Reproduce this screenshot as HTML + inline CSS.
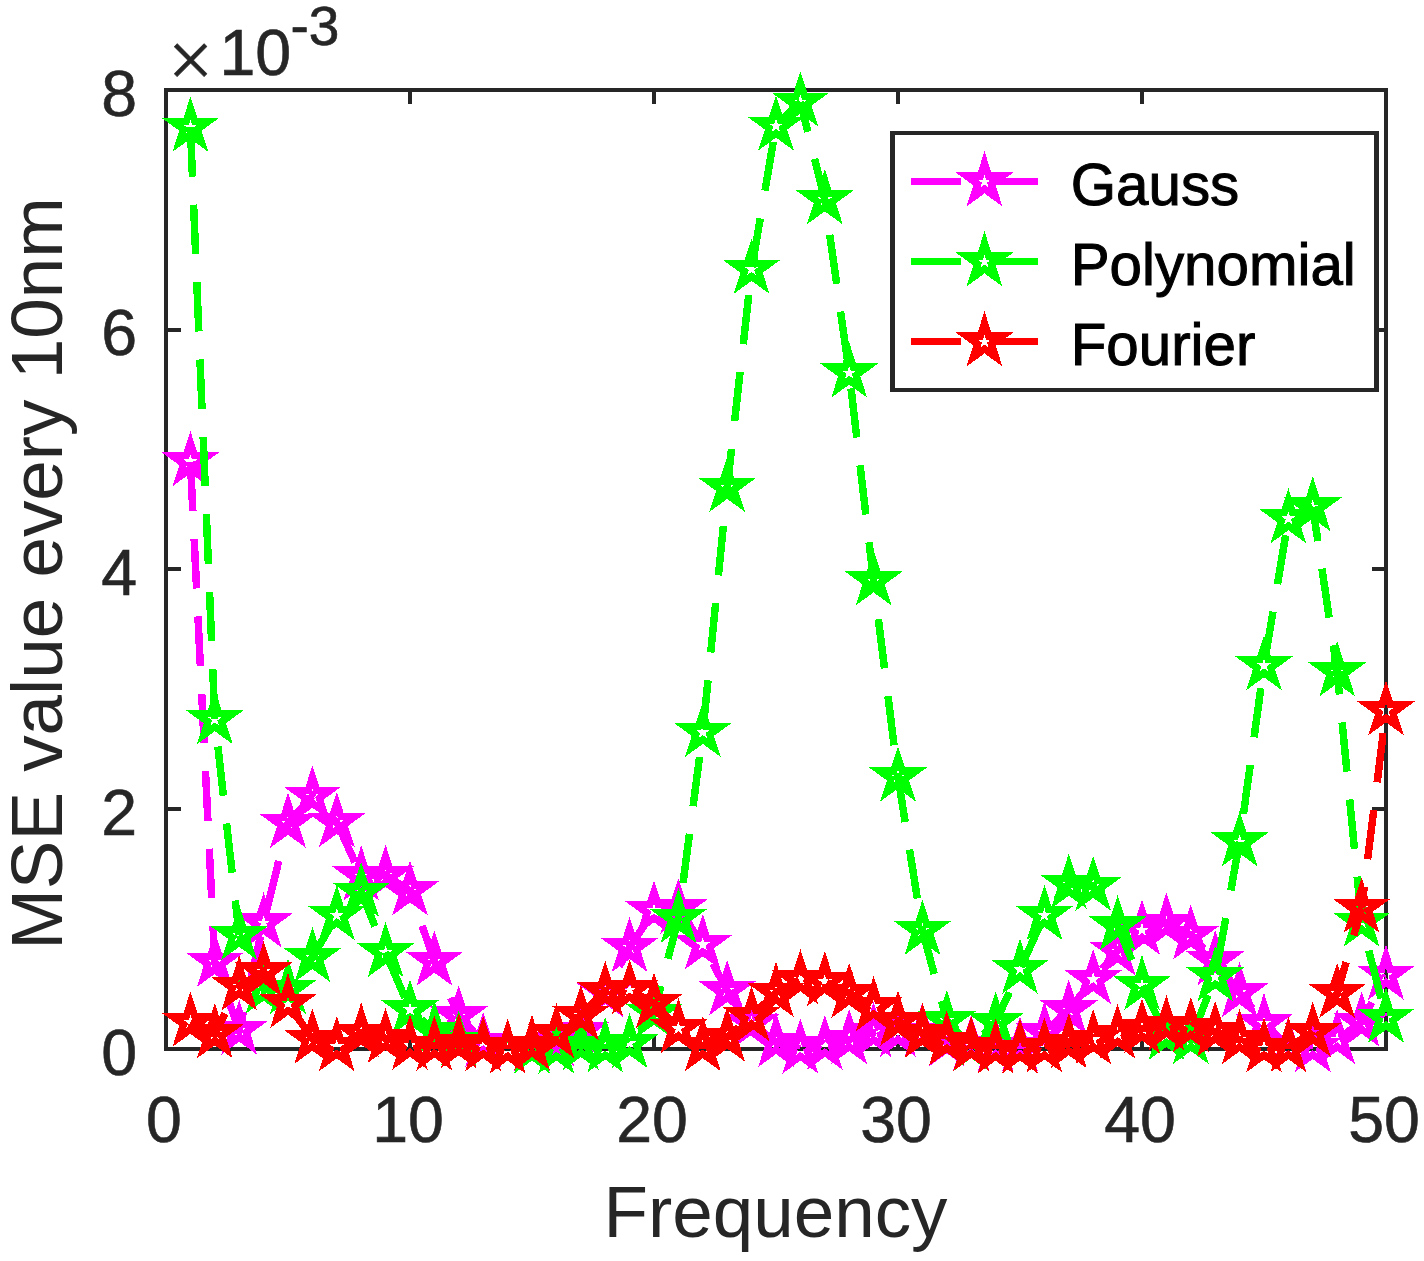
<!DOCTYPE html>
<html><head><meta charset="utf-8"><title>MSE value every 10nm vs Frequency</title>
<style>html,body{margin:0;padding:0;background:#fff}svg{display:block}.d{shape-rendering:crispEdges}text{font-family:"Liberation Sans",Arial,Helvetica,sans-serif;fill:#262626}</style></head><body>
<svg width="1424" height="1261" viewBox="0 0 1424 1261">
<rect width="1424" height="1261" fill="#fff"/>
<defs><clipPath id="ax"><rect x="166.0" y="90.0" width="1220.0" height="959.0"/></clipPath></defs>
<g stroke="#262626" stroke-width="4" fill="none" stroke-linecap="butt" shape-rendering="crispEdges">
<rect x="166.0" y="90.0" width="1220.0" height="959.0" stroke-linejoin="miter"/>
<path d="M410.00 1049.00V1035.00M410.00 90.00V104.00M654.00 1049.00V1035.00M654.00 90.00V104.00M898.00 1049.00V1035.00M898.00 90.00V104.00M1142.00 1049.00V1035.00M1142.00 90.00V104.00M166.00 809.00H181.00M1386.00 809.00H1372.00M166.00 569.00H181.00M1386.00 569.00H1372.00M166.00 330.00H181.00M1386.00 330.00H1372.00"/>
</g>
<g font-size="64.5" stroke="#262626" stroke-width="0.6">
<text x="164.0" y="1141.6" text-anchor="middle">0</text>
<text x="408.0" y="1141.6" text-anchor="middle">10</text>
<text x="652.0" y="1141.6" text-anchor="middle">20</text>
<text x="896.0" y="1141.6" text-anchor="middle">30</text>
<text x="1140.0" y="1141.6" text-anchor="middle">40</text>
<text x="1384.0" y="1141.6" text-anchor="middle">50</text>
<text x="137.2" y="1074.5" text-anchor="end">0</text>
<text x="137.2" y="834.8" text-anchor="end">2</text>
<text x="137.2" y="595.0" text-anchor="end">4</text>
<text x="137.2" y="355.2" text-anchor="end">6</text>
<text x="137.2" y="115.5" text-anchor="end">8</text>
<text x="168" y="87" font-family="Liberation Serif" font-size="80" style="font-family:'Liberation Serif',serif">×</text>
<text x="219.5" y="74.5">10</text>
<text x="290.5" y="45.4" font-size="55">-3</text>
</g>
<text x="775.5" y="1236.8" font-size="72.8" text-anchor="middle">Frequency</text>
<text transform="translate(62.2,573.5) rotate(-90)" font-size="72.8" text-anchor="middle">MSE value every 10nm</text>
<polyline class="d" clip-path="url(#ax)" points="190.40,461.61 214.80,962.21 239.20,1030.06 263.60,922.77 288.00,823.16 312.40,796.06 336.80,822.44 361.20,875.90 385.60,875.18 410.00,890.76 434.40,961.13 458.80,1015.91 483.20,1042.29 507.60,1049.00 532.00,1046.60 556.40,1041.81 580.80,1031.02 605.20,992.42 629.60,947.35 654.00,910.66 678.40,908.87 702.80,944.71 727.20,990.50 751.60,1022.99 776.00,1042.41 800.40,1049.00 824.80,1045.28 849.20,1039.53 873.60,1032.58 898.00,1032.22 922.40,1032.82 946.80,1041.81 971.20,1045.40 995.60,1046.60 1020.00,1046.60 1044.40,1032.22 1068.80,1009.92 1093.20,979.47 1117.60,950.94 1142.00,930.08 1166.40,923.13 1190.80,935.00 1215.20,960.89 1239.60,992.66 1264.00,1023.47 1288.40,1047.20 1312.80,1047.44 1337.20,1039.41 1361.60,1022.03 1386.00,975.16" fill="none" stroke="#ff00ff" stroke-width="7.5" stroke-dasharray="49.5 28" stroke-dashoffset="0.00" stroke-linejoin="miter"/>
<path class="d" d="M190.40 442.71L194.64 455.77L208.37 455.77L197.27 463.84L201.51 476.90L190.40 468.83L179.29 476.90L183.53 463.84L172.43 455.77L186.16 455.77ZM214.80 943.31L219.04 956.37L232.77 956.37L221.67 964.44L225.91 977.50L214.80 969.43L203.69 977.50L207.93 964.44L196.83 956.37L210.56 956.37ZM239.20 1011.16L243.44 1024.22L257.17 1024.22L246.07 1032.29L250.31 1045.35L239.20 1037.28L228.09 1045.35L232.33 1032.29L221.23 1024.22L234.96 1024.22ZM263.60 903.87L267.84 916.93L281.57 916.93L270.47 925.00L274.71 938.06L263.60 929.99L252.49 938.06L256.73 925.00L245.63 916.93L259.36 916.93ZM288.00 804.26L292.24 817.32L305.97 817.32L294.87 825.39L299.11 838.45L288.00 830.37L276.89 838.45L281.13 825.39L270.03 817.32L283.76 817.32ZM312.40 777.16L316.64 790.22L330.37 790.22L319.27 798.29L323.51 811.35L312.40 803.28L301.29 811.35L305.53 798.29L294.43 790.22L308.16 790.22ZM336.80 803.54L341.04 816.60L354.77 816.60L343.67 824.67L347.91 837.73L336.80 829.66L325.69 837.73L329.93 824.67L318.83 816.60L332.56 816.60ZM361.20 857.00L365.44 870.06L379.17 870.06L368.07 878.13L372.31 891.19L361.20 883.12L350.09 891.19L354.33 878.13L343.23 870.06L356.96 870.06ZM385.60 856.28L389.84 869.34L403.57 869.34L392.47 877.41L396.71 890.47L385.60 882.40L374.49 890.47L378.73 877.41L367.63 869.34L381.36 869.34ZM410.00 871.87L414.24 884.92L427.97 884.92L416.87 893.00L421.11 906.06L410.00 897.98L398.89 906.06L403.13 893.00L392.03 884.92L405.76 884.92ZM434.40 942.23L438.64 955.29L452.37 955.29L441.27 963.36L445.51 976.42L434.40 968.35L423.29 976.42L427.53 963.36L416.43 955.29L430.16 955.29ZM458.80 997.01L463.04 1010.07L476.77 1010.07L465.67 1018.15L469.91 1031.20L458.80 1023.13L447.69 1031.20L451.93 1018.15L440.83 1010.07L454.56 1010.07ZM483.20 1023.39L487.44 1036.45L501.17 1036.45L490.07 1044.52L494.31 1057.58L483.20 1049.51L472.09 1057.58L476.33 1044.52L465.23 1036.45L478.96 1036.45ZM507.60 1030.10L511.84 1043.16L525.57 1043.16L514.47 1051.23L518.71 1064.29L507.60 1056.22L496.49 1064.29L500.73 1051.23L489.63 1043.16L503.36 1043.16ZM532.00 1027.70L536.24 1040.76L549.97 1040.76L538.87 1048.83L543.11 1061.89L532.00 1053.82L520.89 1061.89L525.13 1048.83L514.03 1040.76L527.76 1040.76ZM556.40 1022.91L560.64 1035.97L574.37 1035.97L563.27 1044.04L567.51 1057.10L556.40 1049.03L545.29 1057.10L549.53 1044.04L538.43 1035.97L552.16 1035.97ZM580.80 1012.12L585.04 1025.18L598.77 1025.18L587.67 1033.25L591.91 1046.31L580.80 1038.24L569.69 1046.31L573.93 1033.25L562.83 1025.18L576.56 1025.18ZM605.20 973.52L609.44 986.58L623.17 986.58L612.07 994.65L616.31 1007.71L605.20 999.64L594.09 1007.71L598.33 994.65L587.23 986.58L600.96 986.58ZM629.60 928.45L633.84 941.51L647.57 941.51L636.47 949.58L640.71 962.64L629.60 954.57L618.49 962.64L622.73 949.58L611.63 941.51L625.36 941.51ZM654.00 891.76L658.24 904.82L671.97 904.82L660.87 912.90L665.11 925.95L654.00 917.88L642.89 925.95L647.13 912.90L636.03 904.82L649.76 904.82ZM678.40 889.97L682.64 903.03L696.37 903.03L685.27 911.10L689.51 924.16L678.40 916.09L667.29 924.16L671.53 911.10L660.43 903.03L674.16 903.03ZM702.80 925.81L707.04 938.87L720.77 938.87L709.67 946.94L713.91 960.00L702.80 951.93L691.69 960.00L695.93 946.94L684.83 938.87L698.56 938.87ZM727.20 971.60L731.44 984.66L745.17 984.66L734.07 992.73L738.31 1005.79L727.20 997.72L716.09 1005.79L720.33 992.73L709.23 984.66L722.96 984.66ZM751.60 1004.09L755.84 1017.15L769.57 1017.15L758.47 1025.22L762.71 1038.28L751.60 1030.21L740.49 1038.28L744.73 1025.22L733.63 1017.15L747.36 1017.15ZM776.00 1023.51L780.24 1036.57L793.97 1036.57L782.87 1044.64L787.11 1057.70L776.00 1049.63L764.89 1057.70L769.13 1044.64L758.03 1036.57L771.76 1036.57ZM800.40 1030.10L804.64 1043.16L818.37 1043.16L807.27 1051.23L811.51 1064.29L800.40 1056.22L789.29 1064.29L793.53 1051.23L782.43 1043.16L796.16 1043.16ZM824.80 1026.38L829.04 1039.44L842.77 1039.44L831.67 1047.51L835.91 1060.57L824.80 1052.50L813.69 1060.57L817.93 1047.51L806.83 1039.44L820.56 1039.44ZM849.20 1020.63L853.44 1033.69L867.17 1033.69L856.07 1041.76L860.31 1054.82L849.20 1046.75L838.09 1054.82L842.33 1041.76L831.23 1033.69L844.96 1033.69ZM873.60 1013.68L877.84 1026.74L891.57 1026.74L880.47 1034.81L884.71 1047.87L873.60 1039.80L862.49 1047.87L866.73 1034.81L855.63 1026.74L869.36 1026.74ZM898.00 1013.32L902.24 1026.38L915.97 1026.38L904.87 1034.45L909.11 1047.51L898.00 1039.44L886.89 1047.51L891.13 1034.45L880.03 1026.38L893.76 1026.38ZM922.40 1013.92L926.64 1026.98L940.37 1026.98L929.27 1035.05L933.51 1048.11L922.40 1040.04L911.29 1048.11L915.53 1035.05L904.43 1026.98L918.16 1026.98ZM946.80 1022.91L951.04 1035.97L964.77 1035.97L953.67 1044.04L957.91 1057.10L946.80 1049.03L935.69 1057.10L939.93 1044.04L928.83 1035.97L942.56 1035.97ZM971.20 1026.50L975.44 1039.56L989.17 1039.56L978.07 1047.63L982.31 1060.69L971.20 1052.62L960.09 1060.69L964.33 1047.63L953.23 1039.56L966.96 1039.56ZM995.60 1027.70L999.84 1040.76L1013.57 1040.76L1002.47 1048.83L1006.71 1061.89L995.60 1053.82L984.49 1061.89L988.73 1048.83L977.63 1040.76L991.36 1040.76ZM1020.00 1027.70L1024.24 1040.76L1037.97 1040.76L1026.87 1048.83L1031.11 1061.89L1020.00 1053.82L1008.89 1061.89L1013.13 1048.83L1002.03 1040.76L1015.76 1040.76ZM1044.40 1013.32L1048.64 1026.38L1062.37 1026.38L1051.27 1034.45L1055.51 1047.51L1044.40 1039.44L1033.29 1047.51L1037.53 1034.45L1026.43 1026.38L1040.16 1026.38ZM1068.80 991.02L1073.04 1004.08L1086.77 1004.08L1075.67 1012.15L1079.91 1025.21L1068.80 1017.14L1057.69 1025.21L1061.93 1012.15L1050.83 1004.08L1064.56 1004.08ZM1093.20 960.57L1097.44 973.63L1111.17 973.63L1100.07 981.70L1104.31 994.76L1093.20 986.69L1082.09 994.76L1086.33 981.70L1075.23 973.63L1088.96 973.63ZM1117.60 932.04L1121.84 945.10L1135.57 945.10L1124.47 953.17L1128.71 966.23L1117.60 958.16L1106.49 966.23L1110.73 953.17L1099.63 945.10L1113.36 945.10ZM1142.00 911.18L1146.24 924.24L1159.97 924.24L1148.87 932.31L1153.11 945.37L1142.00 937.30L1130.89 945.37L1135.13 932.31L1124.03 924.24L1137.76 924.24ZM1166.40 904.23L1170.64 917.29L1184.37 917.29L1173.27 925.36L1177.51 938.42L1166.40 930.35L1155.29 938.42L1159.53 925.36L1148.43 917.29L1162.16 917.29ZM1190.80 916.10L1195.04 929.16L1208.77 929.16L1197.67 937.23L1201.91 950.29L1190.80 942.22L1179.69 950.29L1183.93 937.23L1172.83 929.16L1186.56 929.16ZM1215.20 941.99L1219.44 955.05L1233.17 955.05L1222.07 963.12L1226.31 976.18L1215.20 968.11L1204.09 976.18L1208.33 963.12L1197.23 955.05L1210.96 955.05ZM1239.60 973.76L1243.84 986.82L1257.57 986.82L1246.47 994.89L1250.71 1007.95L1239.60 999.88L1228.49 1007.95L1232.73 994.89L1221.63 986.82L1235.36 986.82ZM1264.00 1004.57L1268.24 1017.63L1281.97 1017.63L1270.87 1025.70L1275.11 1038.76L1264.00 1030.69L1252.89 1038.76L1257.13 1025.70L1246.03 1017.63L1259.76 1017.63ZM1288.40 1028.30L1292.64 1041.36L1306.37 1041.36L1295.27 1049.43L1299.51 1062.49L1288.40 1054.42L1277.29 1062.49L1281.53 1049.43L1270.43 1041.36L1284.16 1041.36ZM1312.80 1028.54L1317.04 1041.60L1330.77 1041.60L1319.67 1049.67L1323.91 1062.73L1312.80 1054.66L1301.69 1062.73L1305.93 1049.67L1294.83 1041.60L1308.56 1041.60ZM1337.20 1020.51L1341.44 1033.57L1355.17 1033.57L1344.07 1041.64L1348.31 1054.70L1337.20 1046.63L1326.09 1054.70L1330.33 1041.64L1319.23 1033.57L1332.96 1033.57ZM1361.60 1003.13L1365.84 1016.19L1379.57 1016.19L1368.47 1024.26L1372.71 1037.32L1361.60 1029.25L1350.49 1037.32L1354.73 1024.26L1343.63 1016.19L1357.36 1016.19ZM1386.00 956.26L1390.24 969.32L1403.97 969.32L1392.87 977.39L1397.11 990.45L1386.00 982.38L1374.89 990.45L1379.13 977.39L1368.03 969.32L1381.76 969.32Z" fill="none" stroke="#ff00ff" stroke-width="7.2" stroke-linejoin="miter" stroke-miterlimit="10"/>
<polyline class="d" clip-path="url(#ax)" points="190.40,127.16 214.80,719.58 239.20,935.24" fill="none" stroke="#00ff00" stroke-width="7.5" stroke-dasharray="49.5 28" stroke-dashoffset="0.00" stroke-linejoin="miter"/>
<polyline class="d" clip-path="url(#ax)" points="239.20,935.24 263.60,989.06 288.00,989.18" fill="none" stroke="#00ff00" stroke-width="7.5" stroke-dasharray="49.5 28" stroke-dashoffset="36.46" stroke-linejoin="miter"/>
<polyline class="d" clip-path="url(#ax)" points="288.00,989.18 312.40,957.42 336.80,915.46 361.20,892.20 385.60,952.50 410.00,1009.68 434.40,1031.02 458.80,1040.97 483.20,1046.60 507.60,1049.00 532.00,1049.00 556.40,1049.00 580.80,1045.40 605.20,1047.80 629.60,1043.49 654.00,1013.04" fill="none" stroke="#00ff00" stroke-width="7.5" stroke-dasharray="49.5 28" stroke-dashoffset="45.46" stroke-linejoin="miter"/>
<polyline class="d" clip-path="url(#ax)" points="654.00,1013.04 678.40,918.34 702.80,732.29" fill="none" stroke="#00ff00" stroke-width="7.5" stroke-dasharray="49.5 28" stroke-dashoffset="21.52" stroke-linejoin="miter"/>
<polyline class="d" clip-path="url(#ax)" points="702.80,732.29 727.20,487.27 751.60,269.21 776.00,125.96 800.40,101.99" fill="none" stroke="#00ff00" stroke-width="7.5" stroke-dasharray="49.5 28" stroke-dashoffset="74.76" stroke-linejoin="miter"/>
<polyline class="d" clip-path="url(#ax)" points="800.40,101.99 824.80,199.69 849.20,372.91 873.60,580.77 898.00,776.88 922.40,930.32 946.80,1020.71" fill="none" stroke="#00ff00" stroke-width="7.5" stroke-dasharray="49.5 28" stroke-dashoffset="18.82" stroke-linejoin="miter"/>
<polyline class="d" clip-path="url(#ax)" points="946.80,1020.71 971.20,1046.60 995.60,1022.03 1020.00,969.28 1044.40,915.34 1068.80,884.05 1093.20,886.21 1117.60,925.77 1142.00,985.47 1166.40,1035.33 1190.80,1039.41 1215.20,976.84" fill="none" stroke="#00ff00" stroke-width="7.5" stroke-dasharray="49.5 28" stroke-dashoffset="24.15" stroke-linejoin="miter"/>
<polyline class="d" clip-path="url(#ax)" points="1215.20,976.84 1239.60,841.74 1264.00,665.64 1288.40,518.67 1312.80,506.81" fill="none" stroke="#00ff00" stroke-width="7.5" stroke-dasharray="49.5 28" stroke-dashoffset="67.24" stroke-linejoin="miter"/>
<polyline class="d" clip-path="url(#ax)" points="1312.80,506.81 1337.20,671.87 1361.60,922.05" fill="none" stroke="#00ff00" stroke-width="7.5" stroke-dasharray="49.5 28" stroke-dashoffset="14.92" stroke-linejoin="miter"/>
<polyline class="d" clip-path="url(#ax)" points="1361.60,922.05 1386.00,1018.07" fill="none" stroke="#00ff00" stroke-width="7.5" stroke-dasharray="49.5 28" stroke-dashoffset="48.14" stroke-linejoin="miter"/>
<path class="d" d="M190.40 108.26L194.64 121.32L208.37 121.32L197.27 129.39L201.51 142.45L190.40 134.38L179.29 142.45L183.53 129.39L172.43 121.32L186.16 121.32ZM214.80 700.68L219.04 713.74L232.77 713.74L221.67 721.81L225.91 734.87L214.80 726.80L203.69 734.87L207.93 721.81L196.83 713.74L210.56 713.74ZM239.20 916.34L243.44 929.40L257.17 929.40L246.07 937.47L250.31 950.53L239.20 942.46L228.09 950.53L232.33 937.47L221.23 929.40L234.96 929.40ZM263.60 970.16L267.84 983.22L281.57 983.22L270.47 991.29L274.71 1004.35L263.60 996.28L252.49 1004.35L256.73 991.29L245.63 983.22L259.36 983.22ZM288.00 970.28L292.24 983.34L305.97 983.34L294.87 991.41L299.11 1004.47L288.00 996.40L276.89 1004.47L281.13 991.41L270.03 983.34L283.76 983.34ZM312.40 938.52L316.64 951.58L330.37 951.58L319.27 959.65L323.51 972.71L312.40 964.63L301.29 972.71L305.53 959.65L294.43 951.58L308.16 951.58ZM336.80 896.56L341.04 909.62L354.77 909.62L343.67 917.69L347.91 930.75L336.80 922.68L325.69 930.75L329.93 917.69L318.83 909.62L332.56 909.62ZM361.20 873.30L365.44 886.36L379.17 886.36L368.07 894.43L372.31 907.49L361.20 899.42L350.09 907.49L354.33 894.43L343.23 886.36L356.96 886.36ZM385.60 933.60L389.84 946.66L403.57 946.66L392.47 954.73L396.71 967.79L385.60 959.72L374.49 967.79L378.73 954.73L367.63 946.66L381.36 946.66ZM410.00 990.78L414.24 1003.84L427.97 1003.84L416.87 1011.91L421.11 1024.97L410.00 1016.90L398.89 1024.97L403.13 1011.91L392.03 1003.84L405.76 1003.84ZM434.40 1012.12L438.64 1025.18L452.37 1025.18L441.27 1033.25L445.51 1046.31L434.40 1038.24L423.29 1046.31L427.53 1033.25L416.43 1025.18L430.16 1025.18ZM458.80 1022.07L463.04 1035.13L476.77 1035.13L465.67 1043.20L469.91 1056.26L458.80 1048.19L447.69 1056.26L451.93 1043.20L440.83 1035.13L454.56 1035.13ZM483.20 1027.70L487.44 1040.76L501.17 1040.76L490.07 1048.83L494.31 1061.89L483.20 1053.82L472.09 1061.89L476.33 1048.83L465.23 1040.76L478.96 1040.76ZM507.60 1030.10L511.84 1043.16L525.57 1043.16L514.47 1051.23L518.71 1064.29L507.60 1056.22L496.49 1064.29L500.73 1051.23L489.63 1043.16L503.36 1043.16ZM532.00 1030.10L536.24 1043.16L549.97 1043.16L538.87 1051.23L543.11 1064.29L532.00 1056.22L520.89 1064.29L525.13 1051.23L514.03 1043.16L527.76 1043.16ZM556.40 1030.10L560.64 1043.16L574.37 1043.16L563.27 1051.23L567.51 1064.29L556.40 1056.22L545.29 1064.29L549.53 1051.23L538.43 1043.16L552.16 1043.16ZM580.80 1026.50L585.04 1039.56L598.77 1039.56L587.67 1047.63L591.91 1060.69L580.80 1052.62L569.69 1060.69L573.93 1047.63L562.83 1039.56L576.56 1039.56ZM605.20 1028.90L609.44 1041.96L623.17 1041.96L612.07 1050.03L616.31 1063.09L605.20 1055.02L594.09 1063.09L598.33 1050.03L587.23 1041.96L600.96 1041.96ZM629.60 1024.59L633.84 1037.65L647.57 1037.65L636.47 1045.72L640.71 1058.78L629.60 1050.70L618.49 1058.78L622.73 1045.72L611.63 1037.65L625.36 1037.65ZM654.00 994.14L658.24 1007.20L671.97 1007.20L660.87 1015.27L665.11 1028.33L654.00 1020.26L642.89 1028.33L647.13 1015.27L636.03 1007.20L649.76 1007.20ZM678.40 899.44L682.64 912.50L696.37 912.50L685.27 920.57L689.51 933.63L678.40 925.56L667.29 933.63L671.53 920.57L660.43 912.50L674.16 912.50ZM702.80 713.39L707.04 726.45L720.77 726.45L709.67 734.52L713.91 747.58L702.80 739.51L691.69 747.58L695.93 734.52L684.83 726.45L698.56 726.45ZM727.20 468.37L731.44 481.43L745.17 481.43L734.07 489.50L738.31 502.56L727.20 494.48L716.09 502.56L720.33 489.50L709.23 481.43L722.96 481.43ZM751.60 250.31L755.84 263.37L769.57 263.37L758.47 271.44L762.71 284.50L751.60 276.43L740.49 284.50L744.73 271.44L733.63 263.37L747.36 263.37ZM776.00 107.06L780.24 120.12L793.97 120.12L782.87 128.19L787.11 141.25L776.00 133.18L764.89 141.25L769.13 128.19L758.03 120.12L771.76 120.12ZM800.40 83.09L804.64 96.15L818.37 96.15L807.27 104.22L811.51 117.28L800.40 109.21L789.29 117.28L793.53 104.22L782.43 96.15L796.16 96.15ZM824.80 180.79L829.04 193.85L842.77 193.85L831.67 201.92L835.91 214.98L824.80 206.90L813.69 214.98L817.93 201.92L806.83 193.85L820.56 193.85ZM849.20 354.01L853.44 367.06L867.17 367.06L856.07 375.14L860.31 388.20L849.20 380.12L838.09 388.20L842.33 375.14L831.23 367.06L844.96 367.06ZM873.60 561.87L877.84 574.93L891.57 574.93L880.47 583.00L884.71 596.06L873.60 587.99L862.49 596.06L866.73 583.00L855.63 574.93L869.36 574.93ZM898.00 757.98L902.24 771.04L915.97 771.04L904.87 779.11L909.11 792.17L898.00 784.10L886.89 792.17L891.13 779.11L880.03 771.04L893.76 771.04ZM922.40 911.42L926.64 924.48L940.37 924.48L929.27 932.55L933.51 945.61L922.40 937.54L911.29 945.61L915.53 932.55L904.43 924.48L918.16 924.48ZM946.80 1001.81L951.04 1014.87L964.77 1014.87L953.67 1022.94L957.91 1036.00L946.80 1027.93L935.69 1036.00L939.93 1022.94L928.83 1014.87L942.56 1014.87ZM971.20 1027.70L975.44 1040.76L989.17 1040.76L978.07 1048.83L982.31 1061.89L971.20 1053.82L960.09 1061.89L964.33 1048.83L953.23 1040.76L966.96 1040.76ZM995.60 1003.13L999.84 1016.19L1013.57 1016.19L1002.47 1024.26L1006.71 1037.32L995.60 1029.25L984.49 1037.32L988.73 1024.26L977.63 1016.19L991.36 1016.19ZM1020.00 950.38L1024.24 963.44L1037.97 963.44L1026.87 971.51L1031.11 984.57L1020.00 976.50L1008.89 984.57L1013.13 971.51L1002.03 963.44L1015.76 963.44ZM1044.40 896.44L1048.64 909.50L1062.37 909.50L1051.27 917.57L1055.51 930.63L1044.40 922.56L1033.29 930.63L1037.53 917.57L1026.43 909.50L1040.16 909.50ZM1068.80 865.15L1073.04 878.21L1086.77 878.21L1075.67 886.28L1079.91 899.34L1068.80 891.27L1057.69 899.34L1061.93 886.28L1050.83 878.21L1064.56 878.21ZM1093.20 867.31L1097.44 880.37L1111.17 880.37L1100.07 888.44L1104.31 901.50L1093.20 893.43L1082.09 901.50L1086.33 888.44L1075.23 880.37L1088.96 880.37ZM1117.60 906.87L1121.84 919.93L1135.57 919.93L1124.47 928.00L1128.71 941.06L1117.60 932.99L1106.49 941.06L1110.73 928.00L1099.63 919.93L1113.36 919.93ZM1142.00 966.57L1146.24 979.63L1159.97 979.63L1148.87 987.70L1153.11 1000.76L1142.00 992.69L1130.89 1000.76L1135.13 987.70L1124.03 979.63L1137.76 979.63ZM1166.40 1016.43L1170.64 1029.49L1184.37 1029.49L1173.27 1037.57L1177.51 1050.62L1166.40 1042.55L1155.29 1050.62L1159.53 1037.57L1148.43 1029.49L1162.16 1029.49ZM1190.80 1020.51L1195.04 1033.57L1208.77 1033.57L1197.67 1041.64L1201.91 1054.70L1190.80 1046.63L1179.69 1054.70L1183.93 1041.64L1172.83 1033.57L1186.56 1033.57ZM1215.20 957.94L1219.44 970.99L1233.17 970.99L1222.07 979.07L1226.31 992.13L1215.20 984.05L1204.09 992.13L1208.33 979.07L1197.23 970.99L1210.96 970.99ZM1239.60 822.84L1243.84 835.90L1257.57 835.90L1246.47 843.97L1250.71 857.03L1239.60 848.96L1228.49 857.03L1232.73 843.97L1221.63 835.90L1235.36 835.90ZM1264.00 646.74L1268.24 659.80L1281.97 659.80L1270.87 667.87L1275.11 680.93L1264.00 672.86L1252.89 680.93L1257.13 667.87L1246.03 659.80L1259.76 659.80ZM1288.40 499.77L1292.64 512.83L1306.37 512.83L1295.27 520.90L1299.51 533.96L1288.40 525.89L1277.29 533.96L1281.53 520.90L1270.43 512.83L1284.16 512.83ZM1312.80 487.91L1317.04 500.96L1330.77 500.96L1319.67 509.04L1323.91 522.10L1312.80 514.02L1301.69 522.10L1305.93 509.04L1294.83 500.96L1308.56 500.96ZM1337.20 652.97L1341.44 666.03L1355.17 666.03L1344.07 674.10L1348.31 687.16L1337.20 679.09L1326.09 687.16L1330.33 674.10L1319.23 666.03L1332.96 666.03ZM1361.60 903.15L1365.84 916.21L1379.57 916.21L1368.47 924.28L1372.71 937.34L1361.60 929.27L1350.49 937.34L1354.73 924.28L1343.63 916.21L1357.36 916.21ZM1386.00 999.17L1390.24 1012.23L1403.97 1012.23L1392.87 1020.30L1397.11 1033.36L1386.00 1025.29L1374.89 1033.36L1379.13 1020.30L1368.03 1012.23L1381.76 1012.23Z" fill="none" stroke="#00ff00" stroke-width="7.2" stroke-linejoin="miter" stroke-miterlimit="10"/>
<polyline class="d" clip-path="url(#ax)" points="190.40,1022.15 214.80,1033.66 239.20,985.95 263.60,971.68 288.00,1003.45 312.40,1039.05 336.80,1046.72 361.20,1032.94 385.60,1038.33 410.00,1045.28 434.40,1046.00 458.80,1043.73 483.20,1046.60 507.60,1049.00 532.00,1045.40 556.40,1033.54 580.80,1015.43 605.20,991.10 629.60,989.78 654.00,1003.21 678.40,1028.62 702.80,1046.60 727.20,1037.01 751.60,1016.63 776.00,992.42 800.40,979.71 824.80,981.63 849.20,993.26 873.60,1006.68 898.00,1021.31 922.40,1033.42 946.80,1040.97 971.20,1046.36 995.60,1049.00 1020.00,1049.00 1044.40,1047.80 1068.80,1043.61 1093.20,1039.65 1117.60,1034.26 1142.00,1028.86" fill="none" stroke="#ff0000" stroke-width="7.5" stroke-dasharray="49.5 28" stroke-dashoffset="0.00" stroke-linejoin="miter"/>
<polyline class="d" clip-path="url(#ax)" points="1142.00,1028.86 1166.40,1025.62 1190.80,1027.42 1215.20,1031.50 1239.60,1039.65 1264.00,1047.80 1288.40,1047.56 1312.80,1032.10 1337.20,993.26 1361.60,908.15" fill="none" stroke="#ff0000" stroke-width="7.5" stroke-dasharray="49.5 28" stroke-dashoffset="25.31" stroke-linejoin="miter"/>
<polyline class="d" clip-path="url(#ax)" points="1361.60,908.15 1386.00,710.71" fill="none" stroke="#ff0000" stroke-width="7.5" stroke-dasharray="49.5 28" stroke-dashoffset="28.19" stroke-linejoin="miter"/>
<path class="d" d="M190.40 1003.25L194.64 1016.31L208.37 1016.31L197.27 1024.38L201.51 1037.44L190.40 1029.37L179.29 1037.44L183.53 1024.38L172.43 1016.31L186.16 1016.31ZM214.80 1014.76L219.04 1027.82L232.77 1027.82L221.67 1035.89L225.91 1048.95L214.80 1040.88L203.69 1048.95L207.93 1035.89L196.83 1027.82L210.56 1027.82ZM239.20 967.05L243.44 980.11L257.17 980.11L246.07 988.18L250.31 1001.24L239.20 993.16L228.09 1001.24L232.33 988.18L221.23 980.11L234.96 980.11ZM263.60 952.78L267.84 965.84L281.57 965.84L270.47 973.91L274.71 986.97L263.60 978.90L252.49 986.97L256.73 973.91L245.63 965.84L259.36 965.84ZM288.00 984.55L292.24 997.61L305.97 997.61L294.87 1005.68L299.11 1018.74L288.00 1010.67L276.89 1018.74L281.13 1005.68L270.03 997.61L283.76 997.61ZM312.40 1020.15L316.64 1033.21L330.37 1033.21L319.27 1041.28L323.51 1054.34L312.40 1046.27L301.29 1054.34L305.53 1041.28L294.43 1033.21L308.16 1033.21ZM336.80 1027.82L341.04 1040.88L354.77 1040.88L343.67 1048.95L347.91 1062.01L336.80 1053.94L325.69 1062.01L329.93 1048.95L318.83 1040.88L332.56 1040.88ZM361.20 1014.04L365.44 1027.10L379.17 1027.10L368.07 1035.17L372.31 1048.23L361.20 1040.16L350.09 1048.23L354.33 1035.17L343.23 1027.10L356.96 1027.10ZM385.60 1019.43L389.84 1032.49L403.57 1032.49L392.47 1040.56L396.71 1053.62L385.60 1045.55L374.49 1053.62L378.73 1040.56L367.63 1032.49L381.36 1032.49ZM410.00 1026.38L414.24 1039.44L427.97 1039.44L416.87 1047.51L421.11 1060.57L410.00 1052.50L398.89 1060.57L403.13 1047.51L392.03 1039.44L405.76 1039.44ZM434.40 1027.10L438.64 1040.16L452.37 1040.16L441.27 1048.23L445.51 1061.29L434.40 1053.22L423.29 1061.29L427.53 1048.23L416.43 1040.16L430.16 1040.16ZM458.80 1024.83L463.04 1037.89L476.77 1037.89L465.67 1045.96L469.91 1059.02L458.80 1050.94L447.69 1059.02L451.93 1045.96L440.83 1037.89L454.56 1037.89ZM483.20 1027.70L487.44 1040.76L501.17 1040.76L490.07 1048.83L494.31 1061.89L483.20 1053.82L472.09 1061.89L476.33 1048.83L465.23 1040.76L478.96 1040.76ZM507.60 1030.10L511.84 1043.16L525.57 1043.16L514.47 1051.23L518.71 1064.29L507.60 1056.22L496.49 1064.29L500.73 1051.23L489.63 1043.16L503.36 1043.16ZM532.00 1026.50L536.24 1039.56L549.97 1039.56L538.87 1047.63L543.11 1060.69L532.00 1052.62L520.89 1060.69L525.13 1047.63L514.03 1039.56L527.76 1039.56ZM556.40 1014.64L560.64 1027.70L574.37 1027.70L563.27 1035.77L567.51 1048.83L556.40 1040.76L545.29 1048.83L549.53 1035.77L538.43 1027.70L552.16 1027.70ZM580.80 996.53L585.04 1009.59L598.77 1009.59L587.67 1017.67L591.91 1030.73L580.80 1022.65L569.69 1030.73L573.93 1017.67L562.83 1009.59L576.56 1009.59ZM605.20 972.20L609.44 985.26L623.17 985.26L612.07 993.33L616.31 1006.39L605.20 998.32L594.09 1006.39L598.33 993.33L587.23 985.26L600.96 985.26ZM629.60 970.88L633.84 983.94L647.57 983.94L636.47 992.01L640.71 1005.07L629.60 997.00L618.49 1005.07L622.73 992.01L611.63 983.94L625.36 983.94ZM654.00 984.31L658.24 997.37L671.97 997.37L660.87 1005.44L665.11 1018.50L654.00 1010.43L642.89 1018.50L647.13 1005.44L636.03 997.37L649.76 997.37ZM678.40 1009.72L682.64 1022.78L696.37 1022.78L685.27 1030.85L689.51 1043.91L678.40 1035.84L667.29 1043.91L671.53 1030.85L660.43 1022.78L674.16 1022.78ZM702.80 1027.70L707.04 1040.76L720.77 1040.76L709.67 1048.83L713.91 1061.89L702.80 1053.82L691.69 1061.89L695.93 1048.83L684.83 1040.76L698.56 1040.76ZM727.20 1018.11L731.44 1031.17L745.17 1031.17L734.07 1039.24L738.31 1052.30L727.20 1044.23L716.09 1052.30L720.33 1039.24L709.23 1031.17L722.96 1031.17ZM751.60 997.73L755.84 1010.79L769.57 1010.79L758.47 1018.86L762.71 1031.92L751.60 1023.85L740.49 1031.92L744.73 1018.86L733.63 1010.79L747.36 1010.79ZM776.00 973.52L780.24 986.58L793.97 986.58L782.87 994.65L787.11 1007.71L776.00 999.64L764.89 1007.71L769.13 994.65L758.03 986.58L771.76 986.58ZM800.40 960.81L804.64 973.87L818.37 973.87L807.27 981.94L811.51 995.00L800.40 986.93L789.29 995.00L793.53 981.94L782.43 973.87L796.16 973.87ZM824.80 962.73L829.04 975.79L842.77 975.79L831.67 983.86L835.91 996.92L824.80 988.85L813.69 996.92L817.93 983.86L806.83 975.79L820.56 975.79ZM849.20 974.36L853.44 987.42L867.17 987.42L856.07 995.49L860.31 1008.55L849.20 1000.48L838.09 1008.55L842.33 995.49L831.23 987.42L844.96 987.42ZM873.60 987.78L877.84 1000.84L891.57 1000.84L880.47 1008.91L884.71 1021.97L873.60 1013.90L862.49 1021.97L866.73 1008.91L855.63 1000.84L869.36 1000.84ZM898.00 1002.41L902.24 1015.47L915.97 1015.47L904.87 1023.54L909.11 1036.60L898.00 1028.53L886.89 1036.60L891.13 1023.54L880.03 1015.47L893.76 1015.47ZM922.40 1014.52L926.64 1027.58L940.37 1027.58L929.27 1035.65L933.51 1048.71L922.40 1040.64L911.29 1048.71L915.53 1035.65L904.43 1027.58L918.16 1027.58ZM946.80 1022.07L951.04 1035.13L964.77 1035.13L953.67 1043.20L957.91 1056.26L946.80 1048.19L935.69 1056.26L939.93 1043.20L928.83 1035.13L942.56 1035.13ZM971.20 1027.46L975.44 1040.52L989.17 1040.52L978.07 1048.59L982.31 1061.65L971.20 1053.58L960.09 1061.65L964.33 1048.59L953.23 1040.52L966.96 1040.52ZM995.60 1030.10L999.84 1043.16L1013.57 1043.16L1002.47 1051.23L1006.71 1064.29L995.60 1056.22L984.49 1064.29L988.73 1051.23L977.63 1043.16L991.36 1043.16ZM1020.00 1030.10L1024.24 1043.16L1037.97 1043.16L1026.87 1051.23L1031.11 1064.29L1020.00 1056.22L1008.89 1064.29L1013.13 1051.23L1002.03 1043.16L1015.76 1043.16ZM1044.40 1028.90L1048.64 1041.96L1062.37 1041.96L1051.27 1050.03L1055.51 1063.09L1044.40 1055.02L1033.29 1063.09L1037.53 1050.03L1026.43 1041.96L1040.16 1041.96ZM1068.80 1024.71L1073.04 1037.77L1086.77 1037.77L1075.67 1045.84L1079.91 1058.90L1068.80 1050.82L1057.69 1058.90L1061.93 1045.84L1050.83 1037.77L1064.56 1037.77ZM1093.20 1020.75L1097.44 1033.81L1111.17 1033.81L1100.07 1041.88L1104.31 1054.94L1093.20 1046.87L1082.09 1054.94L1086.33 1041.88L1075.23 1033.81L1088.96 1033.81ZM1117.60 1015.36L1121.84 1028.41L1135.57 1028.41L1124.47 1036.49L1128.71 1049.55L1117.60 1041.47L1106.49 1049.55L1110.73 1036.49L1099.63 1028.41L1113.36 1028.41ZM1142.00 1009.96L1146.24 1023.02L1159.97 1023.02L1148.87 1031.09L1153.11 1044.15L1142.00 1036.08L1130.89 1044.15L1135.13 1031.09L1124.03 1023.02L1137.76 1023.02ZM1166.40 1006.72L1170.64 1019.78L1184.37 1019.78L1173.27 1027.86L1177.51 1040.91L1166.40 1032.84L1155.29 1040.91L1159.53 1027.86L1148.43 1019.78L1162.16 1019.78ZM1190.80 1008.52L1195.04 1021.58L1208.77 1021.58L1197.67 1029.65L1201.91 1042.71L1190.80 1034.64L1179.69 1042.71L1183.93 1029.65L1172.83 1021.58L1186.56 1021.58ZM1215.20 1012.60L1219.44 1025.66L1233.17 1025.66L1222.07 1033.73L1226.31 1046.79L1215.20 1038.72L1204.09 1046.79L1208.33 1033.73L1197.23 1025.66L1210.96 1025.66ZM1239.60 1020.75L1243.84 1033.81L1257.57 1033.81L1246.47 1041.88L1250.71 1054.94L1239.60 1046.87L1228.49 1054.94L1232.73 1041.88L1221.63 1033.81L1235.36 1033.81ZM1264.00 1028.90L1268.24 1041.96L1281.97 1041.96L1270.87 1050.03L1275.11 1063.09L1264.00 1055.02L1252.89 1063.09L1257.13 1050.03L1246.03 1041.96L1259.76 1041.96ZM1288.40 1028.66L1292.64 1041.72L1306.37 1041.72L1295.27 1049.79L1299.51 1062.85L1288.40 1054.78L1277.29 1062.85L1281.53 1049.79L1270.43 1041.72L1284.16 1041.72ZM1312.80 1013.20L1317.04 1026.26L1330.77 1026.26L1319.67 1034.33L1323.91 1047.39L1312.80 1039.32L1301.69 1047.39L1305.93 1034.33L1294.83 1026.26L1308.56 1026.26ZM1337.20 974.36L1341.44 987.42L1355.17 987.42L1344.07 995.49L1348.31 1008.55L1337.20 1000.48L1326.09 1008.55L1330.33 995.49L1319.23 987.42L1332.96 987.42ZM1361.60 889.25L1365.84 902.31L1379.57 902.31L1368.47 910.38L1372.71 923.44L1361.60 915.37L1350.49 923.44L1354.73 910.38L1343.63 902.31L1357.36 902.31ZM1386.00 691.81L1390.24 704.87L1403.97 704.87L1392.87 712.94L1397.11 726.00L1386.00 717.93L1374.89 726.00L1379.13 712.94L1368.03 704.87L1381.76 704.87Z" fill="none" stroke="#ff0000" stroke-width="7.2" stroke-linejoin="miter" stroke-miterlimit="10"/>
<rect x="890" y="131" width="489" height="261" fill="#262626"/><rect x="895" y="135" width="479" height="253" fill="#fff"/>
<path class="d" d="M911 181.5 H1058" stroke="#ff00ff" stroke-width="7" stroke-dasharray="49.5 28" fill="none"/>
<path class="d" d="M984.50 162.90L988.74 175.96L1002.47 175.96L991.37 184.03L995.61 197.09L984.50 189.02L973.39 197.09L977.63 184.03L966.53 175.96L980.26 175.96Z" fill="none" stroke="#ff00ff" stroke-width="7.2" stroke-miterlimit="10"/>
<text x="1070.7" y="204.70000000000002" font-size="58.3" style="fill:#000;stroke:#000;stroke-width:1px">Gauss</text>
<path class="d" d="M911 261.5 H1058" stroke="#00ff00" stroke-width="7" stroke-dasharray="49.5 28" fill="none"/>
<path class="d" d="M984.50 242.90L988.74 255.96L1002.47 255.96L991.37 264.03L995.61 277.09L984.50 269.02L973.39 277.09L977.63 264.03L966.53 255.96L980.26 255.96Z" fill="none" stroke="#00ff00" stroke-width="7.2" stroke-miterlimit="10"/>
<text x="1070.7" y="284.7" font-size="58.3" style="fill:#000;stroke:#000;stroke-width:1px">Polynomial</text>
<path class="d" d="M911 341.5 H1058" stroke="#ff0000" stroke-width="7" stroke-dasharray="49.5 28" fill="none"/>
<path class="d" d="M984.50 322.90L988.74 335.96L1002.47 335.96L991.37 344.03L995.61 357.09L984.50 349.02L973.39 357.09L977.63 344.03L966.53 335.96L980.26 335.96Z" fill="none" stroke="#ff0000" stroke-width="7.2" stroke-miterlimit="10"/>
<text x="1070.7" y="364.7" font-size="58.3" style="fill:#000;stroke:#000;stroke-width:1px">Fourier</text>
</svg>
</body></html>
